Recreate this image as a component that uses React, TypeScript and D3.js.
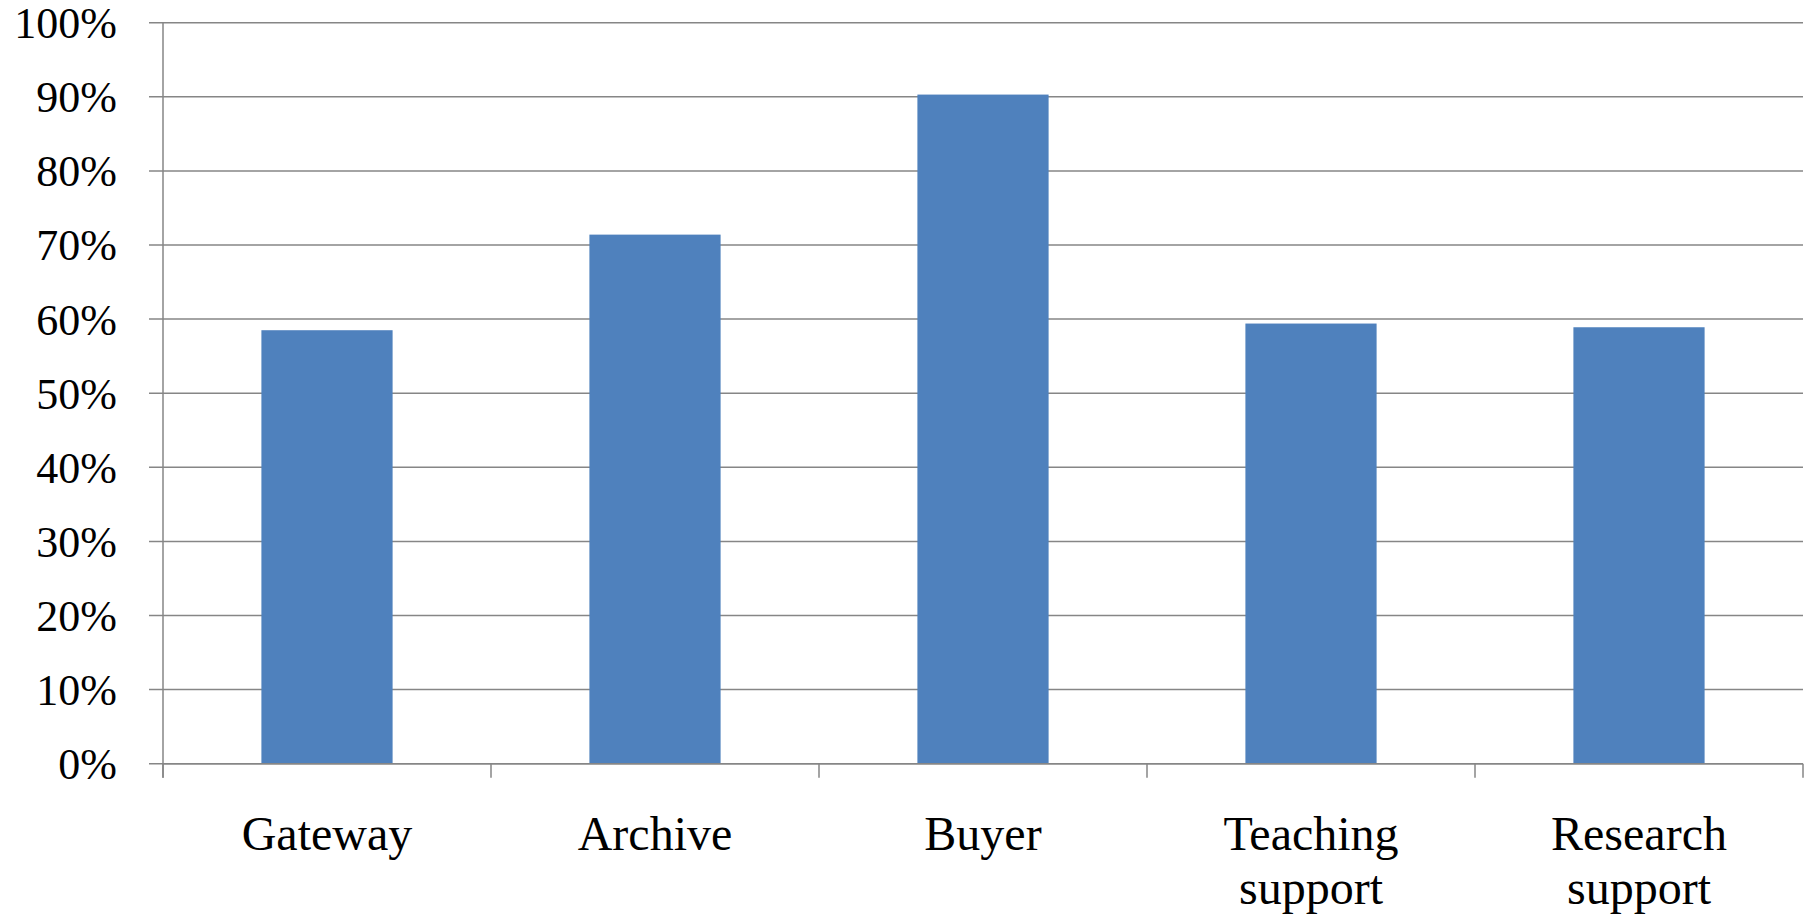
import React, { useEffect, useRef } from 'react'
import * as d3 from 'd3'

const categories = ['Gateway', 'Archive', 'Buyer', 'Teaching support', 'Research support']
const values = [58.5, 71.4, 90.3, 59.4, 58.9]
const yTicks = [0, 10, 20, 30, 40, 50, 60, 70, 80, 90, 100]

export default function App() {
  const ref = useRef<SVGSVGElement | null>(null)

  useEffect(() => {
    const svg = d3.select(ref.current)
    svg.selectAll('*').remove()
    const width = 1812
    const height = 915
    const left = 163
    const right = 1803
    const top = 22.7
    const bottom = 763.7
    const font = '"Liberation Serif", "Times New Roman", serif'
    const grid = '#868686'

    const x = d3.scaleBand<string>().domain(categories).range([left, right]).paddingInner(0.6).paddingOuter(0.3)
    const y = d3.scaleLinear().domain([0, 100]).range([bottom, top])

    svg.attr('viewBox', `0 0 ${width} ${height}`)

    // gridlines + left ticks
    svg.append('g').selectAll('line').data(yTicks).enter().append('line')
      .attr('x1', left - 14).attr('x2', right)
      .attr('y1', d => y(d)).attr('y2', d => y(d))
      .attr('stroke', grid).attr('stroke-width', 1.5)

    svg.append('g').selectAll('text').data(yTicks).enter().append('text')
      .attr('x', 117).attr('y', d => y(d))
      .attr('dy', '0.35em')
      .attr('text-anchor', 'end')
      .attr('font-family', font).attr('font-size', 44)
      .attr('fill', '#000')
      .text(d => `${d}%`)

    // bars
    svg.append('g').selectAll('rect').data(values).enter().append('rect')
      .attr('x', (d, i) => x(categories[i]) || 0)
      .attr('y', d => y(d))
      .attr('width', x.bandwidth())
      .attr('height', d => bottom - y(d))
      .attr('fill', '#4F81BD')

    // axes
    svg.append('line').attr('x1', left).attr('x2', left).attr('y1', top).attr('y2', bottom + 14)
      .attr('stroke', grid).attr('stroke-width', 1.5)
    svg.append('line').attr('x1', left).attr('x2', right).attr('y1', bottom).attr('y2', bottom)
      .attr('stroke', grid).attr('stroke-width', 1.5)

    const step = (right - left) / categories.length
    const bounds = d3.range(categories.length + 1).map(i => left + i * step)
    svg.append('g').selectAll('line').data(bounds).enter().append('line')
      .attr('x1', d => d).attr('x2', d => d)
      .attr('y1', bottom).attr('y2', bottom + 14)
      .attr('stroke', grid).attr('stroke-width', 1.5)

    // category labels
    const lab = svg.append('g').selectAll('text').data(categories).enter().append('text')
      .attr('x', d => (x(d) || 0) + x.bandwidth() / 2)
      .attr('y', 850)
      .attr('text-anchor', 'middle')
      .attr('font-family', font).attr('font-size', 48)
      .attr('fill', '#000')
    lab.each(function (d) {
      const words = d.split(' ')
      const t = d3.select(this)
      const cx = +t.attr('x')
      words.forEach((w, i) => {
        t.append('tspan').attr('x', cx).attr('dy', i === 0 ? 0 : 54).text(w)
      })
    })
  }, [])

  return (
    <svg ref={ref} width={1812} height={915}
      style={{ position: 'absolute', left: 0, top: 0, background: '#fff' }} />
  )
}
